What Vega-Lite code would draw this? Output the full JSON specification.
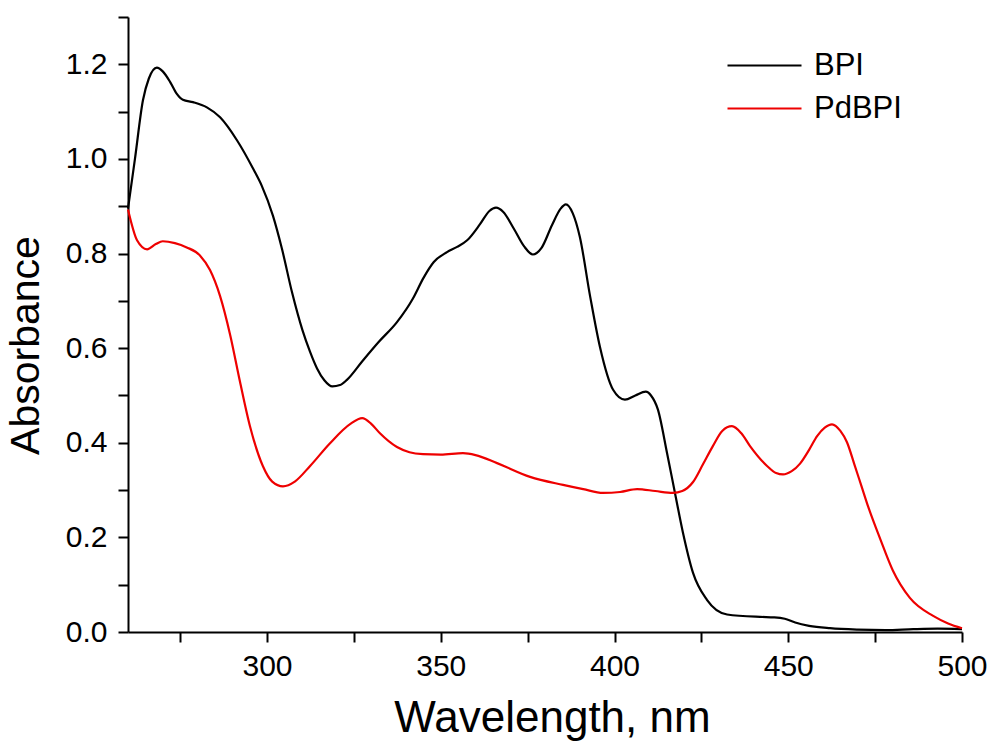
{
  "$schema": "https://vega.github.io/schema/vega-lite/v6.json",
  "width": 834,
  "height": 615,
  "autosize": {"type": "none"},
  "padding": {"left": 128, "top": 17, "right": 33, "bottom": 112},
  "background": "white",
  "config": {
    "view": {"stroke": null},
    "font": "Liberation Sans",
    "axis": {"grid": false, "domainColor": "black", "domainWidth": 2, "tickColor": "black", "tickWidth": 2, "tickSize": 10, "labelColor": "black", "titleColor": "black", "labelFont": "Liberation Sans", "titleFont": "Liberation Sans", "titleFontWeight": "normal"}
  },
  "data": {"values": [
    {"series": "BPI", "wavelength": 260, "absorbance": 0.895},
    {"series": "BPI", "wavelength": 262, "absorbance": 1.0},
    {"series": "BPI", "wavelength": 264.3, "absorbance": 1.124},
    {"series": "BPI", "wavelength": 266, "absorbance": 1.17},
    {"series": "BPI", "wavelength": 268.3, "absorbance": 1.193},
    {"series": "BPI", "wavelength": 270, "absorbance": 1.185},
    {"series": "BPI", "wavelength": 272.1, "absorbance": 1.163},
    {"series": "BPI", "wavelength": 274, "absorbance": 1.138},
    {"series": "BPI", "wavelength": 275.8, "absorbance": 1.125},
    {"series": "BPI", "wavelength": 278.7, "absorbance": 1.12},
    {"series": "BPI", "wavelength": 282.7, "absorbance": 1.109},
    {"series": "BPI", "wavelength": 286.5, "absorbance": 1.088},
    {"series": "BPI", "wavelength": 291.4, "absorbance": 1.039},
    {"series": "BPI", "wavelength": 296.1, "absorbance": 0.978},
    {"series": "BPI", "wavelength": 298.5, "absorbance": 0.943},
    {"series": "BPI", "wavelength": 301.7, "absorbance": 0.88},
    {"series": "BPI", "wavelength": 304.3, "absorbance": 0.81},
    {"series": "BPI", "wavelength": 307.2, "absorbance": 0.718},
    {"series": "BPI", "wavelength": 310.2, "absorbance": 0.638},
    {"series": "BPI", "wavelength": 312.4, "absorbance": 0.592},
    {"series": "BPI", "wavelength": 314.4, "absorbance": 0.557},
    {"series": "BPI", "wavelength": 316.5, "absorbance": 0.532},
    {"series": "BPI", "wavelength": 318.8, "absorbance": 0.519},
    {"series": "BPI", "wavelength": 321, "absorbance": 0.522},
    {"series": "BPI", "wavelength": 323, "absorbance": 0.533},
    {"series": "BPI", "wavelength": 327.6, "absorbance": 0.574},
    {"series": "BPI", "wavelength": 332, "absorbance": 0.612},
    {"series": "BPI", "wavelength": 337.4, "absorbance": 0.655},
    {"series": "BPI", "wavelength": 342, "absorbance": 0.705},
    {"series": "BPI", "wavelength": 345, "absorbance": 0.748},
    {"series": "BPI", "wavelength": 348, "absorbance": 0.782},
    {"series": "BPI", "wavelength": 351.8, "absorbance": 0.803},
    {"series": "BPI", "wavelength": 354.7, "absorbance": 0.814},
    {"series": "BPI", "wavelength": 357.6, "absorbance": 0.828},
    {"series": "BPI", "wavelength": 361.3, "absorbance": 0.862},
    {"series": "BPI", "wavelength": 364, "absorbance": 0.89},
    {"series": "BPI", "wavelength": 365.9, "absorbance": 0.897},
    {"series": "BPI", "wavelength": 368, "absorbance": 0.888},
    {"series": "BPI", "wavelength": 371, "absorbance": 0.853},
    {"series": "BPI", "wavelength": 374, "absorbance": 0.815},
    {"series": "BPI", "wavelength": 376.5, "absorbance": 0.798},
    {"series": "BPI", "wavelength": 379, "absorbance": 0.812},
    {"series": "BPI", "wavelength": 382, "absorbance": 0.86},
    {"series": "BPI", "wavelength": 384.5, "absorbance": 0.895},
    {"series": "BPI", "wavelength": 386, "absorbance": 0.904},
    {"series": "BPI", "wavelength": 388, "absorbance": 0.885},
    {"series": "BPI", "wavelength": 390, "absorbance": 0.836},
    {"series": "BPI", "wavelength": 393, "absorbance": 0.709},
    {"series": "BPI", "wavelength": 395.8, "absorbance": 0.603},
    {"series": "BPI", "wavelength": 399.6, "absorbance": 0.512},
    {"series": "BPI", "wavelength": 403, "absorbance": 0.491},
    {"series": "BPI", "wavelength": 406, "absorbance": 0.5},
    {"series": "BPI", "wavelength": 409, "absorbance": 0.508},
    {"series": "BPI", "wavelength": 410.5, "absorbance": 0.5},
    {"series": "BPI", "wavelength": 412.5, "absorbance": 0.47},
    {"series": "BPI", "wavelength": 415.1, "absorbance": 0.379},
    {"series": "BPI", "wavelength": 417.4, "absorbance": 0.294},
    {"series": "BPI", "wavelength": 419.7, "absorbance": 0.21},
    {"series": "BPI", "wavelength": 422.6, "absorbance": 0.125},
    {"series": "BPI", "wavelength": 426.6, "absorbance": 0.068},
    {"series": "BPI", "wavelength": 432.4, "absorbance": 0.037},
    {"series": "BPI", "wavelength": 441.9, "absorbance": 0.032},
    {"series": "BPI", "wavelength": 446, "absorbance": 0.031},
    {"series": "BPI", "wavelength": 449, "absorbance": 0.028},
    {"series": "BPI", "wavelength": 452, "absorbance": 0.02},
    {"series": "BPI", "wavelength": 456, "absorbance": 0.013},
    {"series": "BPI", "wavelength": 462, "absorbance": 0.008},
    {"series": "BPI", "wavelength": 470, "absorbance": 0.005},
    {"series": "BPI", "wavelength": 478, "absorbance": 0.004},
    {"series": "BPI", "wavelength": 486, "absorbance": 0.006},
    {"series": "BPI", "wavelength": 493, "absorbance": 0.007},
    {"series": "BPI", "wavelength": 500, "absorbance": 0.006},
    {"series": "PdBPI", "wavelength": 260, "absorbance": 0.893},
    {"series": "PdBPI", "wavelength": 262.6, "absorbance": 0.828},
    {"series": "PdBPI", "wavelength": 265.5, "absorbance": 0.809},
    {"series": "PdBPI", "wavelength": 268, "absorbance": 0.82},
    {"series": "PdBPI", "wavelength": 270, "absorbance": 0.826},
    {"series": "PdBPI", "wavelength": 273.5, "absorbance": 0.822},
    {"series": "PdBPI", "wavelength": 276.9, "absorbance": 0.813},
    {"series": "PdBPI", "wavelength": 280.7, "absorbance": 0.796},
    {"series": "PdBPI", "wavelength": 283.6, "absorbance": 0.765},
    {"series": "PdBPI", "wavelength": 286.5, "absorbance": 0.71},
    {"series": "PdBPI", "wavelength": 289.4, "absorbance": 0.628},
    {"series": "PdBPI", "wavelength": 292.2, "absorbance": 0.53},
    {"series": "PdBPI", "wavelength": 295.1, "absorbance": 0.435},
    {"series": "PdBPI", "wavelength": 298.8, "absorbance": 0.351},
    {"series": "PdBPI", "wavelength": 301.5, "absorbance": 0.318},
    {"series": "PdBPI", "wavelength": 304.6, "absorbance": 0.308},
    {"series": "PdBPI", "wavelength": 308, "absorbance": 0.318},
    {"series": "PdBPI", "wavelength": 312.4, "absorbance": 0.351},
    {"series": "PdBPI", "wavelength": 318, "absorbance": 0.398},
    {"series": "PdBPI", "wavelength": 324, "absorbance": 0.44},
    {"series": "PdBPI", "wavelength": 327.4, "absorbance": 0.452},
    {"series": "PdBPI", "wavelength": 330, "absorbance": 0.44},
    {"series": "PdBPI", "wavelength": 332.5, "absorbance": 0.42},
    {"series": "PdBPI", "wavelength": 337.4, "absorbance": 0.391},
    {"series": "PdBPI", "wavelength": 341, "absorbance": 0.38},
    {"series": "PdBPI", "wavelength": 344.9, "absorbance": 0.376},
    {"series": "PdBPI", "wavelength": 350, "absorbance": 0.375},
    {"series": "PdBPI", "wavelength": 356.4, "absorbance": 0.378},
    {"series": "PdBPI", "wavelength": 360, "absorbance": 0.374},
    {"series": "PdBPI", "wavelength": 366.2, "absorbance": 0.357},
    {"series": "PdBPI", "wavelength": 375.7, "absorbance": 0.328},
    {"series": "PdBPI", "wavelength": 385.2, "absorbance": 0.311},
    {"series": "PdBPI", "wavelength": 391, "absorbance": 0.302},
    {"series": "PdBPI", "wavelength": 396.7, "absorbance": 0.294},
    {"series": "PdBPI", "wavelength": 401.6, "absorbance": 0.296},
    {"series": "PdBPI", "wavelength": 406.5, "absorbance": 0.302},
    {"series": "PdBPI", "wavelength": 411.7, "absorbance": 0.298},
    {"series": "PdBPI", "wavelength": 416.8, "absorbance": 0.294},
    {"series": "PdBPI", "wavelength": 419.5, "absorbance": 0.298},
    {"series": "PdBPI", "wavelength": 422.6, "absorbance": 0.317},
    {"series": "PdBPI", "wavelength": 425.5, "absorbance": 0.355},
    {"series": "PdBPI", "wavelength": 428.3, "absorbance": 0.393},
    {"series": "PdBPI", "wavelength": 431, "absorbance": 0.425},
    {"series": "PdBPI", "wavelength": 433.8, "absorbance": 0.435},
    {"series": "PdBPI", "wavelength": 436.5, "absorbance": 0.42},
    {"series": "PdBPI", "wavelength": 439, "absorbance": 0.393},
    {"series": "PdBPI", "wavelength": 443.9, "absorbance": 0.351},
    {"series": "PdBPI", "wavelength": 446.5, "absorbance": 0.336},
    {"series": "PdBPI", "wavelength": 448.5, "absorbance": 0.333},
    {"series": "PdBPI", "wavelength": 451, "absorbance": 0.34},
    {"series": "PdBPI", "wavelength": 453.4, "absorbance": 0.356},
    {"series": "PdBPI", "wavelength": 456, "absorbance": 0.385},
    {"series": "PdBPI", "wavelength": 458.3, "absorbance": 0.414},
    {"series": "PdBPI", "wavelength": 460.5, "absorbance": 0.432},
    {"series": "PdBPI", "wavelength": 462.6, "absorbance": 0.439},
    {"series": "PdBPI", "wavelength": 465, "absorbance": 0.425},
    {"series": "PdBPI", "wavelength": 466.9, "absorbance": 0.401},
    {"series": "PdBPI", "wavelength": 469, "absorbance": 0.355},
    {"series": "PdBPI", "wavelength": 471, "absorbance": 0.31},
    {"series": "PdBPI", "wavelength": 473, "absorbance": 0.265},
    {"series": "PdBPI", "wavelength": 476.4, "absorbance": 0.198},
    {"series": "PdBPI", "wavelength": 480.1, "absorbance": 0.13},
    {"series": "PdBPI", "wavelength": 485, "absorbance": 0.072},
    {"series": "PdBPI", "wavelength": 491.7, "absorbance": 0.034},
    {"series": "PdBPI", "wavelength": 496, "absorbance": 0.018},
    {"series": "PdBPI", "wavelength": 500, "absorbance": 0.008}
  ]},
  "mark": {"type": "line", "interpolate": "monotone", "strokeWidth": 2.2},
  "encoding": {
    "x": {
      "field": "wavelength", "type": "quantitative",
      "scale": {"domain": [260, 500], "nice": false, "zero": false},
      "axis": {
        "title": "Wavelength, nm", "titleFontSize": 44, "titlePadding": 15,
        "titleAnchor": "middle", "titleX": 424,
        "values": [275, 300, 325, 350, 375, 400, 425, 450, 475, 500],
        "labelExpr": "datum.value % 50 == 0 ? datum.label : ''",
        "labelFontSize": 30, "labelPadding": 9, "labelFlush": false
      }
    },
    "y": {
      "field": "absorbance", "type": "quantitative",
      "scale": {"domain": [0, 1.3], "nice": false},
      "axis": {
        "title": "Absorbance", "titleFontSize": 41, "titlePadding": 18,
        "titleAnchor": "middle", "titleY": 328,
        "values": [0, 0.1, 0.2, 0.3, 0.4, 0.5, 0.6, 0.7, 0.8, 0.9, 1.0, 1.1, 1.2, 1.3],
        "labelExpr": "round(datum.value * 10) % 2 == 0 ? format(datum.value, '.1f') : ''",
        "labelFontSize": 30, "labelPadding": 11, "labelFlush": false
      }
    },
    "color": {
      "field": "series", "type": "nominal",
      "scale": {"domain": ["BPI", "PdBPI"], "range": ["#000000", "#ee0000"]},
      "legend": {
        "title": null, "orient": "none", "legendX": 617, "legendY": 29,
        "symbolType": "M-2,0H2", "symbolSize": 1369, "symbolStrokeWidth": 2,
        "symbolFillColor": "transparent",
        "labelFontSize": 31, "labelColor": "black", "labelOffset": 30,
        "rowPadding": 8, "padding": 0
      }
    }
  }
}
